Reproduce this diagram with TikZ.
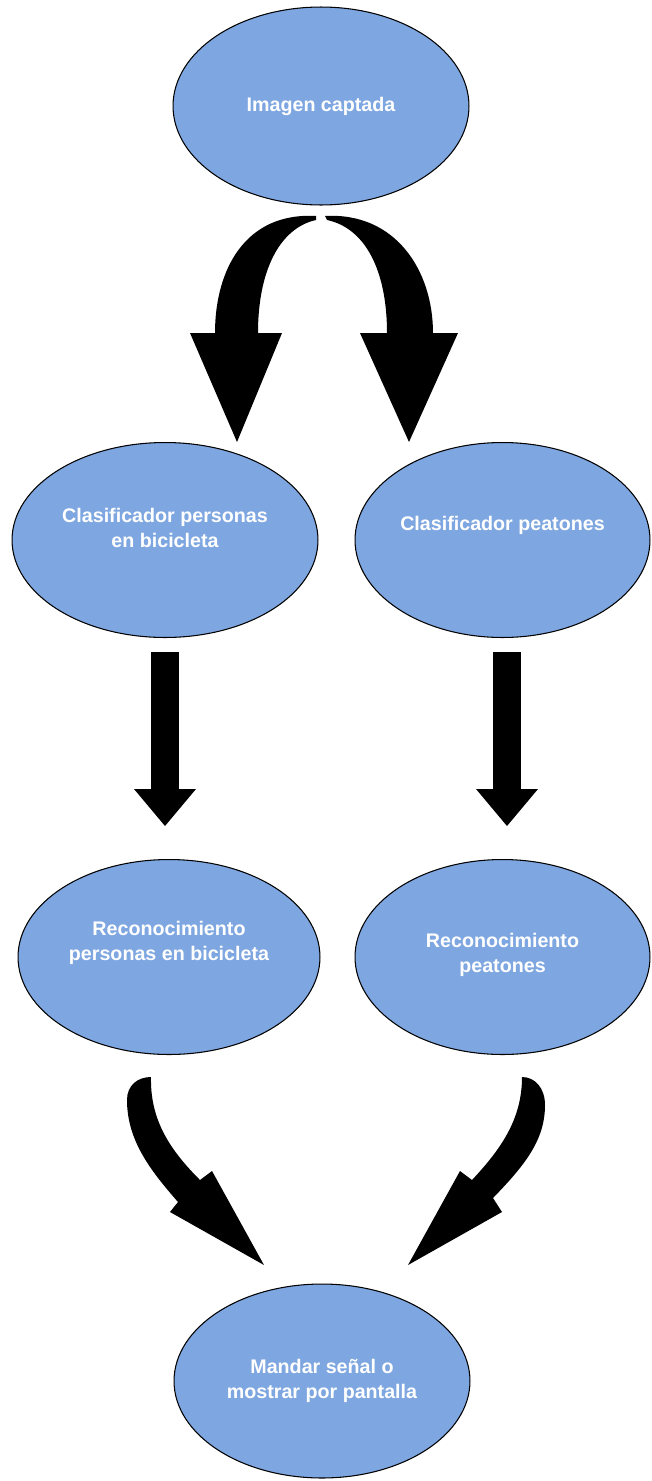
\documentclass[tikz,border=0pt]{standalone}
\usepackage{fontspec}
\setmainfont{Liberation Sans}
\usepackage{xcolor}
\usepackage{tikz}
\usetikzlibrary{shapes.geometric, arrows.meta, positioning}

\definecolor{bubbleblue}{RGB}{126,166,224}

\begin{document}
\begin{tikzpicture}[
    x=0.02cm, y=-0.02cm,
    bubble/.style={ellipse, draw=black, line width=0.6pt, fill=bubbleblue,
                 minimum width=5.92cm, minimum height=3.9cm, inner sep=0pt,
                 align=center, text=white,
                 font=\bfseries\fontsize{11.2}{14.2}\selectfont},
    bubbletext/.style={inner sep=0pt, align=center, text=white,
                 font=\bfseries\fontsize{11.2}{14.2}\selectfont},
    blockarr/.style={line width=0.56cm,
                 -{Triangle[length=0.74cm, width=1.24cm, line width=0pt]}}
  ]

  \useasboundingbox (0,0) rectangle (652,1481);

  \node[bubble, minimum height=3.96cm] (captada) at (321,106) {Imagen captada};
  \node[bubble, minimum width=6.12cm] (clasbici) at (165,540) {};
  \node[bubble, minimum width=5.9cm] (claspeat) at (502.5,540) {};
  \node[bubble, minimum width=6.04cm] (recbici) at (169,957) {};
  \node[bubble, minimum width=5.9cm] (recpeat) at (502.5,957) {};
  \node[bubble, minimum height=3.88cm] (mandar) at (322,1381) {Mandar señal o\\mostrar por pantalla};

  \node[bubbletext] (clasbici-txt) at ([yshift=0.25cm]clasbici.center) {Clasificador personas\\en bicicleta};
  \node[bubbletext] (claspeat-txt) at ([yshift=0.3cm]claspeat.center) {Clasificador peatones};
  \node[bubbletext] (recbici-txt) at ([yshift=0.29cm]recbici.center) {Reconocimiento\\personas en bicicleta};
  \node[bubbletext] (recpeat-txt) at ([yshift=0.05cm]recpeat.center) {Reconocimiento\\peatones};

  \fill (190,333) -- (215,333) .. controls (215,270) and (245,212) .. (316,216)
    -- (316,220) .. controls (280,228) and (258,270) .. (258,333)
    -- (282,333) -- (237,442) -- cycle;
  \fill (458,333) -- (433,333) .. controls (433,270) and (395,212) .. (325,216)
    -- (327,220) .. controls (365,228) and (387,270) .. (387,333)
    -- (360,333) -- (409,442) -- cycle;

  \coordinate (bici-start) at (165,652);
  \coordinate (bici-end) at (165,826);
  \coordinate (peat-start) at (507,652);
  \coordinate (peat-end) at (507,826);
  \draw[blockarr] (bici-start) -- (bici-end);
  \draw[blockarr] (peat-start) -- (peat-end);

  \fill (151,1077) .. controls (150,1120) and (170,1150) .. (200,1180)
    -- (212,1171) -- (264,1265) -- (170,1212) -- (178,1202)
    .. controls (150,1170) and (127,1140) .. (127,1100)
    .. controls (127,1085) and (138,1077) .. (151,1077) -- cycle;
  \fill (522,1077) .. controls (522,1120) and (500,1150) .. (472,1180)
    -- (460,1171) -- (408,1265) -- (502,1212) -- (493,1198)
    .. controls (525,1165) and (545,1140) .. (545,1105)
    .. controls (545,1088) and (535,1077) .. (522,1077) -- cycle;

\end{tikzpicture}
\end{document}
